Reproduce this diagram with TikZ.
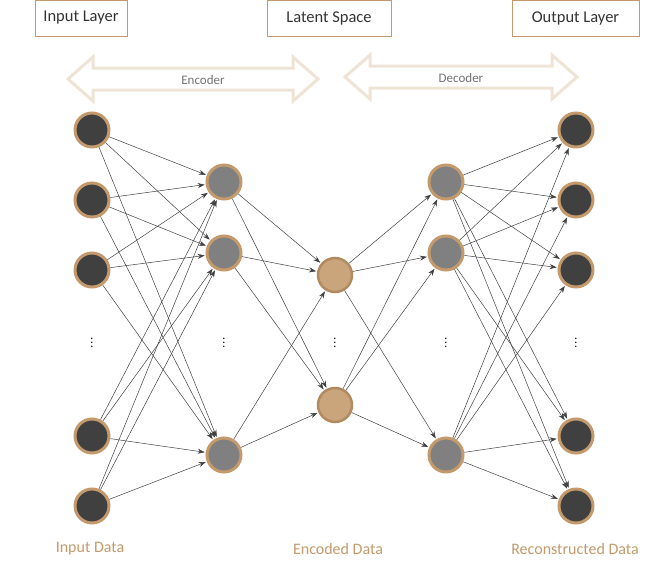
\documentclass[tikz,border=0pt]{standalone}
\usepackage{fontspec}
\setmainfont{Carlito}
\usetikzlibrary{arrows.meta}
\definecolor{tan}{HTML}{C49A6C}
\definecolor{pale}{HTML}{EEE3D4}
\begin{document}
\begin{tikzpicture}[x=1pt,y=-1pt,
  inp/.style={circle,draw=tan,line width=3pt,fill=black!75,minimum size=34pt,inner sep=0},
  hid/.style={circle,draw=tan,line width=3pt,fill=black!50,minimum size=34pt,inner sep=0},
  lat/.style={circle,draw=tan!90!black,line width=2.5pt,fill=tan!90,minimum size=34pt,inner sep=0},
  box/.style={draw=tan,line width=1pt,minimum height=36pt,inner sep=0,text=black!80,font=\fontsize{16.5}{18}\selectfont},
  con/.style={draw=black!75,line width=0.5pt,-{Stealth[length=7pt,width=5pt]},shorten >=1pt},
  lbl/.style={text=tan,font=\fontsize{16}{18}\selectfont},
  dbl/.style={draw=pale,line width=3pt,line join=miter},
  dots/.style={font=\large,inner sep=0}]
\useasboundingbox (0,0) rectangle (656,570);
\node[box,minimum width=92pt] (bi) at (81,18) {Input Layer};
\node[box,minimum width=124pt] (bl) at (329,18) {Latent Space};
\node[box,minimum width=127pt] (bo) at (575.5,18) {Output Layer};
% double arrows
\draw[dbl] (68,79) -- (93,57) -- (93,68) -- (293,68) -- (293,57) -- (318,79) -- (293,101) -- (293,90) -- (93,90) -- (93,101) -- cycle;
\node[text=black!55,font=\fontsize{13}{15}\selectfont] (enc) at (203,80) {Encoder};
\draw[dbl] (345,77) -- (370,55) -- (370,66) -- (552,66) -- (552,55) -- (577,77) -- (552,99) -- (552,88) -- (370,88) -- (370,99) -- cycle;
\node[text=black!55,font=\fontsize{13}{15}\selectfont] (dec) at (461,78) {Decoder};
% nodes
\foreach \i/\y in {1/130,2/200,3/270,4/436,5/506}{
  \node[inp] (i\i) at (92,\y) {};
  \node[inp] (o\i) at (576,\y) {};}
\foreach \i/\y in {1/182,2/253,3/455}{
  \node[hid] (h\i) at (224,\y) {};
  \node[hid] (g\i) at (446,\y) {};}
\node[lat] (l1) at (335,275) {};
\node[lat] (l2) at (335,405) {};
% dots
\foreach \x/\n in {92/a,224/b,335/c,446/d,576/e}
  \node[dots] (d\n) at (\x,340) {$\vdots$};
% connections
\foreach \a in {1,...,5}\foreach \b in {1,2,3} \draw[con] (i\a) -- (h\b);
\foreach \a in {1,2,3}\foreach \b in {1,2} \draw[con] (h\a) -- (l\b);
\foreach \a in {1,2}\foreach \b in {1,2,3} \draw[con] (l\a) -- (g\b);
\foreach \a in {1,2,3}\foreach \b in {1,...,5} \draw[con] (g\a) -- (o\b);
% labels
\node[lbl] (t1) at (90,549) {Input Data};
\node[lbl] (t2) at (338,549) {Encoded Data};
\node[lbl] (t3) at (575,549) {Reconstructed Data};
\end{tikzpicture}
\end{document}
